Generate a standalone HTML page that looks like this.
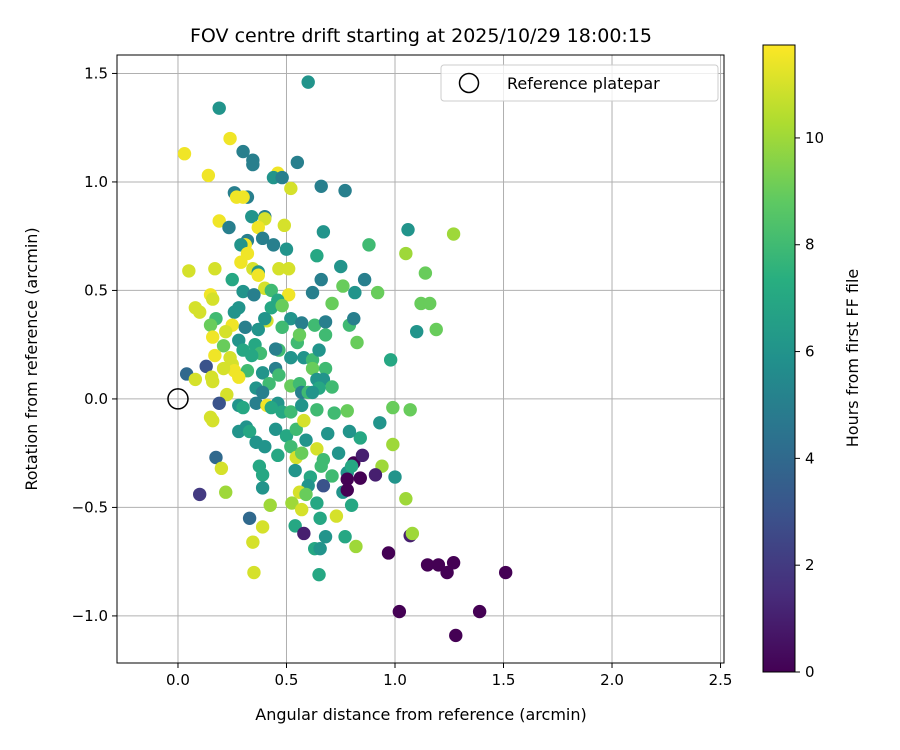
<!DOCTYPE html>
<html><head><meta charset="utf-8"><style>
body{margin:0;background:#fff;}
svg{display:block;font-family:"DejaVu Sans","Liberation Sans",sans-serif;}
</style></head><body>
<svg id="chart" width="900" height="750" viewBox="0 0 900 750" xmlns="http://www.w3.org/2000/svg">
<defs>
<linearGradient id="vir" x1="0" y1="1" x2="0" y2="0">
<stop offset="0" stop-color="#440154"/><stop offset="0.125" stop-color="#472d7b"/><stop offset="0.25" stop-color="#3b528b"/><stop offset="0.375" stop-color="#2c728e"/><stop offset="0.5" stop-color="#21918c"/><stop offset="0.625" stop-color="#28ae80"/><stop offset="0.75" stop-color="#5ec962"/><stop offset="0.875" stop-color="#addc30"/><stop offset="1" stop-color="#fde725"/>
</linearGradient>
<clipPath id="clip"><rect x="117" y="55" width="607" height="608"/></clipPath>
</defs>
<text x="421" y="42" text-anchor="middle" font-size="19">FOV centre drift starting at 2025/10/29 18:00:15</text>
<g id="grid"></g>
<g id="points" clip-path="url(#clip)"></g>
<rect x="117" y="55" width="607" height="608" fill="none" stroke="#000" stroke-width="1"/>
<circle id="refpt" r="10" fill="none" stroke="#000" stroke-width="1.5"/>
<g id="ticks" font-size="15"></g>
<text x="421" y="720" text-anchor="middle" font-size="16">Angular distance from reference (arcmin)</text>
<text transform="translate(37,359) rotate(-90)" text-anchor="middle" font-size="16">Rotation from reference (arcmin)</text>
<g>
<rect x="441" y="65" width="277" height="36" rx="3" fill="#fff" fill-opacity="0.8" stroke="#ccc"/>
<circle cx="469" cy="83" r="9.5" fill="none" stroke="#000" stroke-width="1.5"/>
<text x="507" y="89" font-size="16">Reference platepar</text>
</g>
<rect x="763" y="45" width="32" height="627" fill="url(#vir)" stroke="#000"/>
<g id="cbticks" font-size="15"></g>
<text transform="translate(858,358) rotate(-90)" text-anchor="middle" font-size="16">Hours from first FF file</text>
</svg>
<script>
const xTicks=[0.0,0.5,1.0,1.5,2.0,2.5];
const yTicks=[1.5,1.0,0.5,0.0,-0.5,-1.0];
const cbTicks=[0,2,4,6,8,10];
const xs=[0.60,0.19,0.03,0.24,0.30,0.345,0.345,0.55,0.14,0.46,0.44,0.48,0.66,0.77,0.52,0.26,0.27,0.32,0.30,0.19,0.235,0.40,0.34,0.40,1.06,0.49,0.37,0.32,0.31,0.39,0.29,0.44,0.50,0.67,0.88,1.27,0.64,0.32,0.29,0.345,0.37,0.465,0.37,0.25,0.17,0.05,0.66,0.75,1.05,1.14,0.86,0.76,0.40,0.43,0.30,0.35,0.51,0.62,0.815,0.92,1.12,1.16,0.71,0.15,0.16,0.08,0.10,0.175,0.26,0.28,0.43,0.46,0.48,0.41,0.52,0.40,0.25,0.15,0.31,0.37,0.48,0.57,0.63,0.68,0.79,0.81,1.10,1.19,0.16,0.22,0.21,0.28,0.355,0.30,0.38,0.465,0.55,0.56,0.68,0.825,0.17,0.24,0.25,0.34,0.45,0.52,0.58,0.62,0.65,0.98,0.13,0.26,0.21,0.32,0.39,0.45,0.62,0.68,0.465,0.04,0.08,0.16,0.155,0.28,0.42,0.36,0.39,0.52,0.56,0.64,0.67,0.71,0.57,0.65,0.60,0.225,0.62,0.19,0.28,0.30,0.36,0.41,0.46,0.48,0.43,0.52,0.57,0.64,0.72,0.78,0.99,1.07,0.15,0.16,0.28,0.315,0.33,0.45,0.50,0.545,0.58,0.59,0.69,0.84,0.93,0.99,0.36,0.40,0.52,0.46,0.545,0.57,0.64,0.67,0.74,0.81,0.85,0.94,0.175,0.20,0.375,0.39,0.54,0.66,0.78,0.80,1.0,0.91,0.84,0.78,0.71,0.61,0.60,0.67,0.76,0.78,0.39,0.56,0.59,0.10,0.22,1.05,0.80,0.64,0.425,0.525,1.07,1.08,0.57,0.33,0.655,0.73,0.54,0.39,0.58,0.68,0.77,0.345,0.63,0.655,0.82,0.97,0.65,0.35,1.15,1.20,1.27,1.24,1.51,1.02,1.39,1.28,0.51,0.79];
const ys=[1.46,1.34,1.13,1.20,1.14,1.10,1.08,1.09,1.03,1.04,1.02,1.02,0.98,0.96,0.97,0.95,0.93,0.93,0.93,0.82,0.79,0.84,0.84,0.83,0.78,0.80,0.79,0.73,0.71,0.74,0.71,0.71,0.69,0.77,0.71,0.76,0.66,0.67,0.63,0.60,0.585,0.60,0.57,0.55,0.60,0.59,0.55,0.61,0.67,0.58,0.55,0.52,0.51,0.50,0.495,0.48,0.48,0.49,0.49,0.49,0.44,0.44,0.44,0.48,0.46,0.42,0.40,0.37,0.40,0.42,0.42,0.455,0.43,0.36,0.37,0.37,0.34,0.34,0.33,0.32,0.33,0.35,0.34,0.355,0.34,0.37,0.31,0.32,0.285,0.31,0.245,0.27,0.25,0.225,0.21,0.225,0.26,0.295,0.295,0.26,0.20,0.19,0.16,0.20,0.23,0.19,0.19,0.18,0.225,0.18,0.15,0.13,0.14,0.13,0.12,0.14,0.14,0.14,0.11,0.115,0.09,0.08,0.10,0.10,0.07,0.05,0.03,0.06,0.07,0.09,0.09,0.055,0.03,0.05,0.03,0.02,0.03,-0.02,-0.03,-0.04,-0.02,-0.03,-0.02,-0.06,-0.04,-0.06,-0.03,-0.05,-0.065,-0.055,-0.04,-0.05,-0.085,-0.10,-0.15,-0.13,-0.15,-0.14,-0.17,-0.14,-0.10,-0.19,-0.16,-0.18,-0.11,-0.21,-0.20,-0.22,-0.22,-0.26,-0.27,-0.25,-0.23,-0.28,-0.25,-0.295,-0.26,-0.31,-0.27,-0.32,-0.31,-0.35,-0.33,-0.31,-0.34,-0.31,-0.36,-0.35,-0.365,-0.37,-0.355,-0.36,-0.40,-0.40,-0.43,-0.42,-0.41,-0.43,-0.44,-0.44,-0.43,-0.46,-0.49,-0.48,-0.49,-0.48,-0.63,-0.62,-0.51,-0.55,-0.55,-0.54,-0.585,-0.59,-0.62,-0.635,-0.635,-0.66,-0.69,-0.69,-0.68,-0.71,-0.81,-0.80,-0.765,-0.765,-0.755,-0.80,-0.80,-0.98,-0.98,-1.09,0.60,-0.15];
const hours=[6,6,11.5,11.5,5,5,5,5,11.5,11.5,6,5,5,5,11,5,11.5,5,11.5,11.5,5,5,6,11,6,11,11.5,5,11.5,5,6,5,6,6,8,10,7,11.5,11.5,11,6,11,11.5,7,11,11,5,6,10,9,5,9,11,8,6,5,11.5,5,6,9,9,9,9,11.5,11,11,11,8,6,6,7,7,9,11,6,6,11.5,9,5,6,8,5,8,5,8,5,6,9,11.5,11,9,6,7,7,8,8,8,9,8,9,11.5,11,11,7,5,6,6,8,6,7,3,11.5,11,8,6,5,9,8,8,4,11,11,11,11.5,8,6,5,9,8,6,6,8,5,7,8,11,6,3,6,7,5,11.5,6,7,7,8,6,8,8,9,9,9,11,11,6,6,7,6,7,8,11,6,6,7,6,10,6,6,8,7,11,9,11,8,6,0,1,10,4,11,7,7,6,8,6,7,6,1,0,0,8,7,6,3,6,0,6,11,9,2,10,10,7,7,10,10,1,10,11,4,7,11,7,11,1,6,7,11,7,6,10,0,7,11,0,0,0,0,0,0,0,0,11,6];
const refX=0.0, refY=0.0;

const NS='http://www.w3.org/2000/svg';
const X0=117,X1=724,Y0=55,Y1=663, xmin=-0.281,xmax=2.516,ymin=-1.217,ymax=1.585,hmax=11.74;
const sx=v=>X0+(v-xmin)/(xmax-xmin)*(X1-X0);
const sy=v=>Y1-(v-ymin)/(ymax-ymin)*(Y1-Y0);
const sc=v=>672-v/hmax*627;
const vir=[[68,1,84],[71,45,123],[59,82,139],[44,114,142],[33,145,140],[40,174,128],[94,201,98],[173,220,48],[253,231,37]];
function color(h){let t=Math.max(0,Math.min(1,h/hmax))*8,i=Math.min(7,Math.floor(t)),f=t-i;const a=vir[i],b=vir[i+1];return 'rgb('+a.map((c,k)=>Math.round(c+(b[k]-c)*f)).join(',')+')';}
function mk(tag,attrs,parent){const e=document.createElementNS(NS,tag);for(const k in attrs)e.setAttribute(k,attrs[k]);parent.appendChild(e);return e;}
const grid=document.getElementById('grid'),ticks=document.getElementById('ticks'),pts=document.getElementById('points'),cb=document.getElementById('cbticks');
xTicks.forEach(v=>{const x=sx(v);
 const g=mk('line',{x1:x,x2:x,y1:Y0,y2:Y1,stroke:'#b0b0b0','stroke-width':1},grid);
 
 
 mk('line',{x1:x,x2:x,y1:Y1,y2:Y1+5,stroke:'#000'},ticks);
 const t=mk('text',{x:x,y:Y1+22,'text-anchor':'middle'},ticks);t.textContent=v.toFixed(1);
 
 });
yTicks.forEach(v=>{const y=sy(v);
 const g=mk('line',{x1:X0,x2:X1,y1:y,y2:y,stroke:'#b0b0b0','stroke-width':1},grid);
 
 
 mk('line',{x1:X0-5,x2:X0,y1:y,y2:y,stroke:'#000'},ticks);
 const t=mk('text',{x:X0-9,y:y+5,'text-anchor':'end'},ticks);t.textContent=(v<0?'\u2212':'')+Math.abs(v).toFixed(1);
 
 });
xs.forEach((v,i)=>{const c=mk('circle',{cx:sx(v),cy:sy(ys[i]),r:6.7,fill:color(hours[i])},pts);
 
 });
const rp=document.getElementById('refpt');rp.setAttribute('cx',sx(refX));rp.setAttribute('cy',sy(refY));
cbTicks.forEach(v=>{const y=sc(v);
 mk('line',{x1:795,x2:800,y1:y,y2:y,stroke:'#000'},cb);
 const t=mk('text',{x:805,y:y+5},cb);t.textContent=v;
 
 });
</script>
</body></html>
